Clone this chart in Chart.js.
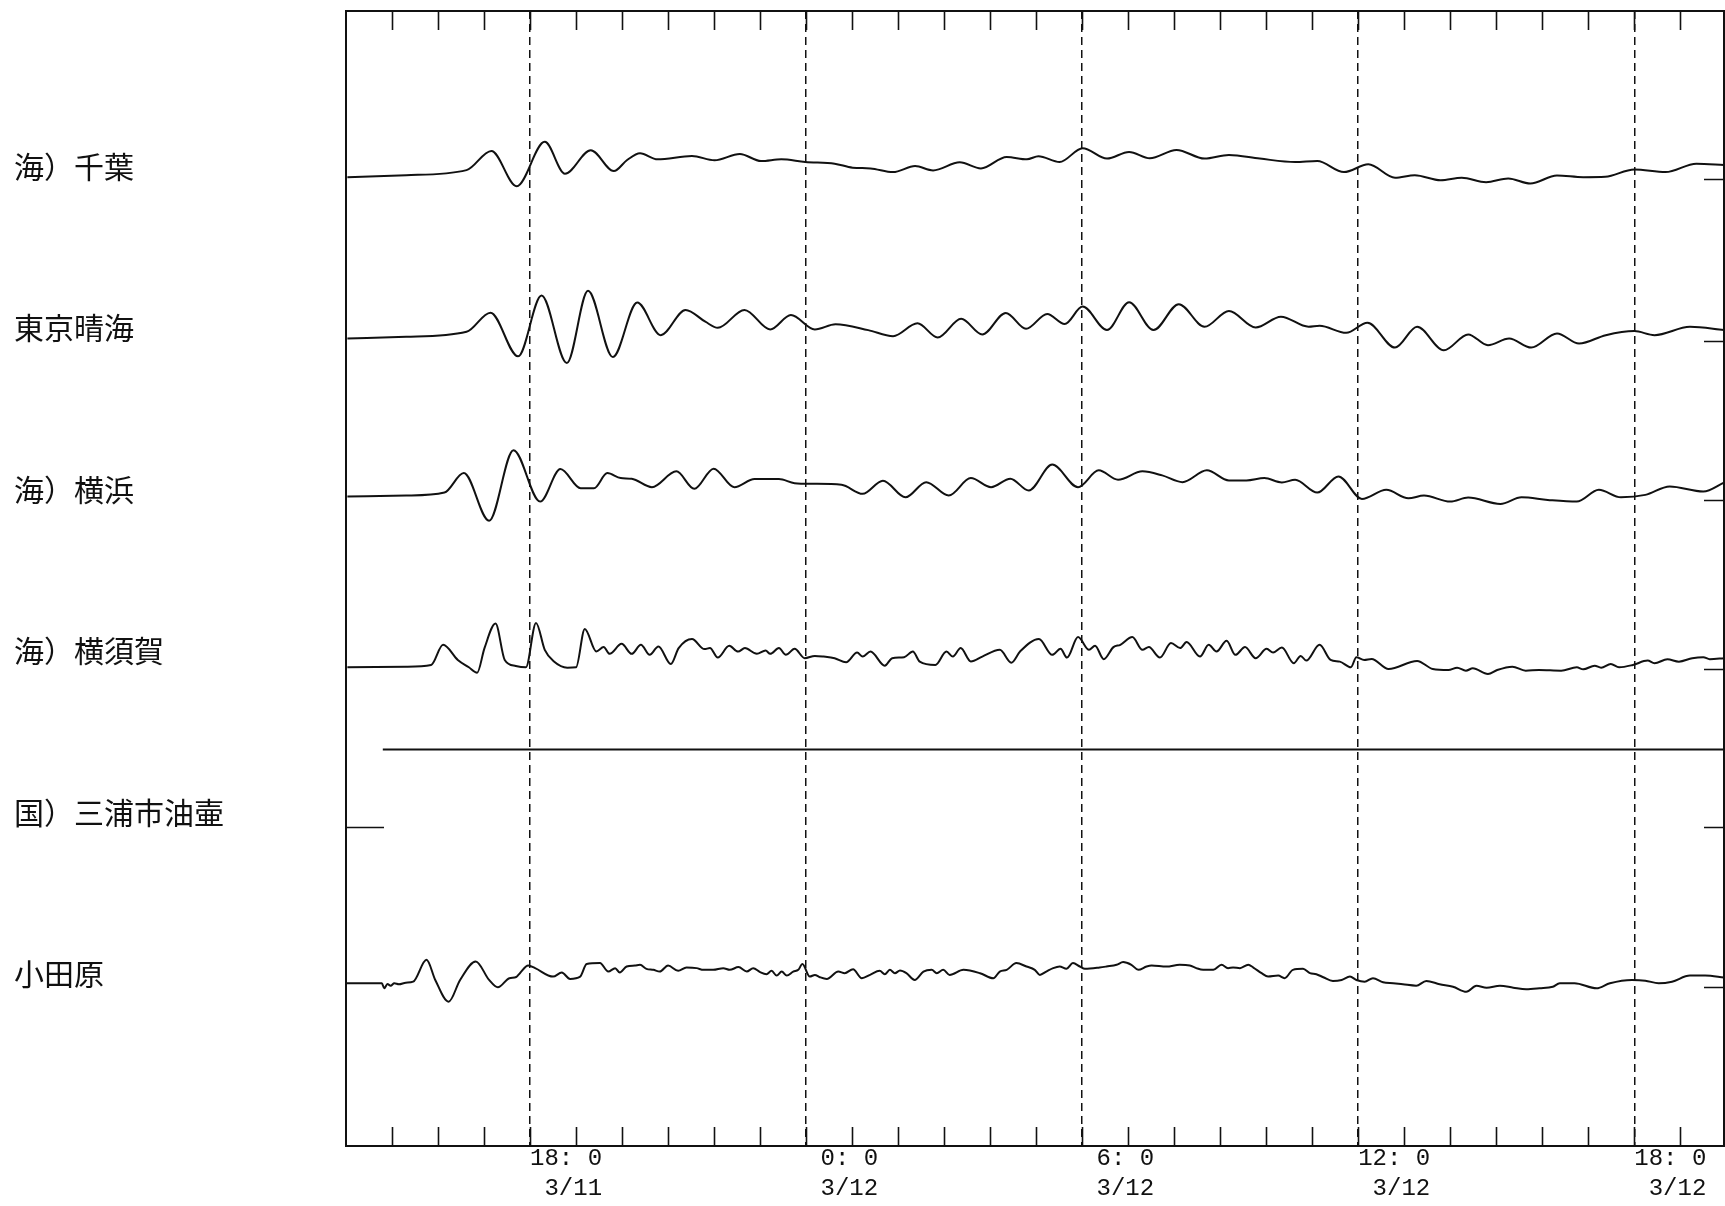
<!DOCTYPE html>
<html>
<head>
<meta charset="utf-8">
<title>潮位記録</title>
<script src="https://cdn.jsdelivr.net/npm/chart.js@4.4.1/dist/chart.umd.min.js"></script>
<style>
  html, body { margin: 0; padding: 0; background: #fff; }
  canvas { display: block; }
</style>
</head>
<body>
<canvas id="tideChart" width="1725" height="1206"></canvas>
<script>
// stations, top to bottom
const stationNames = ["海）千葉", "東京晴海", "海）横浜", "海）横須賀", "国）三浦市油壷", "小田原"];
const stationRows = [960, 800, 640, 480, 320, 160];
const refLevels = [0, 0, 2, -5, -2, 0];
const leftRefMark = [false, false, false, false, true, false];

// time axis, hours from 3/11 0:00
const majorHours = [18, 24, 30, 36, 42];
const timeLabels = ["18: 0", " 0: 0", " 6: 0", "12: 0", "18: 0"];
const dateLabels = [" 3/11", " 3/12", " 3/12", " 3/12", " 3/12"];
const hourTicks = [15, 16, 17, 18, 19, 20, 21, 22, 23, 24, 25, 26, 27, 28, 29,
  30, 31, 32, 33, 34, 35, 36, 37, 38, 39, 40, 41, 42, 43];

// 海）千葉
const chibaT = [14.03, 15.31, 16.62, 17.16, 17.71, 18.32, 18.76, 19.32, 19.82, 20.11, 20.39, 20.77,
  21.52, 22.01, 22.56, 23.02, 23.46, 23.98, 24.62, 25.01, 25.4, 25.89, 26.37, 26.76, 27.34, 27.8,
  28.36, 28.8, 29.05, 29.51, 30.01, 30.54, 31.02, 31.47, 32.05, 32.66, 33.19, 33.86, 34.63, 35.11,
  35.69, 36.22, 36.8, 37.23, 37.79, 38.25, 38.78, 39.26, 39.74, 40.32, 40.89, 41.37, 42.0, 42.68,
  43.35, 43.96];
const chibaV = [2.3, 4.3, 9.3, 28.3, -6.7, 37.3, 5.7, 29, 8.3, 19.3, 26, 20,
  23.3, 19, 25.3, 18.3, 20, 17.3, 15.7, 11.7, 11, 7.3, 13.3, 9, 17, 11,
  22.3, 20, 23, 17.3, 31, 20.7, 27.3, 21, 29.3, 20.7, 24.3, 20.7, 17.3, 18.3,
  7.3, 15, 1.7, 4.3, -0.7, 1.7, -2.7, 1, -4, 4, 2.3, 2.7, 10, 7.3,
  15.7, 14.3];

// 東京晴海
const tokyoT = [14.03, 15.31, 16.62, 17.14, 17.74, 18.25, 18.8, 19.26, 19.8, 20.33, 20.84, 21.38,
  21.81, 22.08, 22.66, 23.22, 23.67, 24.19, 24.64, 25.35, 25.89, 26.42, 26.86, 27.37, 27.83, 28.34,
  28.78, 29.24, 29.62, 30.01, 30.54, 31.02, 31.55, 32.1, 32.66, 33.19, 33.77, 34.32, 34.92, 35.16,
  35.74, 36.2, 36.8, 37.28, 37.86, 38.39, 38.82, 39.28, 39.76, 40.32, 40.8, 41.38, 42.0, 42.44,
  43.21, 43.96];
const tokyoV = [2.4, 4, 9, 28, -15.3, 45, -22, 49.7, -16, 38, 5.7, 30.7,
  19, 13, 30.7, 11.4, 25.7, 11.4, 16.4, 10.7, 4.7, 17.4, 3.4, 22, 6.4, 27.7,
  12, 26.7, 16.7, 34, 10.7, 38.4, 10.7, 36.4, 14, 29.7, 13.4, 24, 14, 15,
  8, 18, -6.6, 14, -9.3, 6.4, -4.3, 2.4, -6.6, 7.4, -2.6, 5.7, 9.7, 5.7,
  14, 10.7];

// 海）横浜
const yokohamaT = [14.03, 15.31, 16.14, 16.56, 17.11, 17.64, 18.22, 18.66, 19.1, 19.39, 19.68, 19.97,
  20.21, 20.65, 21.18, 21.57, 21.99, 22.44, 22.88, 23.41, 23.75, 24.14, 24.77, 25.23, 25.67, 26.16,
  26.61, 27.1, 27.58, 28.02, 28.44, 28.84, 29.35, 29.91, 30.36, 30.78, 31.31, 31.74, 32.18, 32.71,
  33.19, 33.57, 33.96, 34.34, 34.63, 35.11, 35.57, 36.08, 36.61, 37.09, 37.43, 38.0, 38.39, 39.09,
  39.55, 40.12, 40.75, 41.23, 41.71, 42.24, 42.77, 43.5, 43.96];
const yokohamaV = [5.7, 6.7, 9.7, 29, -18.3, 51.7, 0.7, 33, 14, 14, 29, 24,
  23.4, 15, 30.7, 13.4, 33.4, 15, 23, 23, 19, 18.4, 17.4, 8.4, 21.4, 5,
  20, 6.7, 24, 15, 23.4, 11.7, 37.4, 15, 31.7, 22.4, 30.7, 26.7, 20, 31.7,
  21.7, 21.7, 24, 19.7, 22.4, 9.7, 25.7, 3.4, 12.4, 4, 6.7, 0.7, 4.7, -1.6,
  5, 2.4, 0.7, 12.4, 5, 7.4, 15.7, 10.7, 19.7];

// 海）横須賀
const yokosukaT = [14.03, 15.31, 15.85, 16.11, 16.43, 16.67, 16.85, 17.01, 17.25, 17.45, 17.69, 17.91,
  18.13, 18.32, 18.52, 18.81, 19.0, 19.19, 19.44, 19.6, 19.73, 19.99, 20.21, 20.41, 20.6, 20.79,
  21.06, 21.23, 21.52, 21.79, 21.91, 22.08, 22.33, 22.52, 22.67, 22.93, 23.12, 23.22, 23.41, 23.56,
  23.75, 23.97, 24.19, 24.38, 24.62, 24.87, 25.11, 25.23, 25.4, 25.71, 25.87, 26.13, 26.32, 26.47,
  26.81, 27.05, 27.19, 27.36, 27.58, 27.83, 28.21, 28.46, 28.65, 29.06, 29.35, 29.53, 29.67, 29.91,
  30.15, 30.28, 30.47, 30.68, 30.83, 31.09, 31.31, 31.45, 31.69, 31.93, 32.13, 32.27, 32.56, 32.75,
  32.92, 33.14, 33.33, 33.54, 33.77, 34.01, 34.15, 34.34, 34.6, 34.75, 34.87, 35.16, 35.4, 35.6,
  35.84, 35.96, 36.13, 36.29, 36.66, 37.28, 37.62, 37.96, 38.15, 38.34, 38.49, 38.82, 39.02, 39.35,
  39.64, 39.93, 40.41, 40.75, 40.89, 41.14, 41.28, 41.49, 41.67, 41.97, 42.29, 42.44, 42.72, 42.97,
  43.26, 43.5, 43.64, 43.96];
const yokosukaV = [-3.5, -2.9, -1.2, 18.8, 3.8, -3.5, -8.9, 15.5, 39.8, 3.8, -2.2, -3.5,
  40.5, 13.8, 2.2, -3.9, -3.5, 34.5, 12.2, 16.5, 9.8, 19.8, 9.8, 18.8, 8.8, 17.1,
  -0.2, 15.5, 24.5, 14.5, 15.5, 6.1, 17.8, 12.1, 15.5, 9.8, 13.1, 9.8, 15.5, 8.8,
  14.8, 5.5, 7.8, 7.1, 5.5, 1.5, 11.1, 7.1, 12.1, -1.9, 5.5, 6.5, 12.1, 2.1,
  -1.2, 12.1, 7.1, 15.5, 2.2, 7.1, 13.8, 1.1, 12.1, 24.5, 8.8, 14.8, 6.1, 26.5,
  13.8, 17.8, 4.5, 16.5, 18.8, 26.5, 13.8, 16.5, 6.1, 20.5, 15.5, 21.5, 7.1, 18.8,
  12.1, 22.8, 8.8, 16.5, 5.5, 14.8, 11.1, 16.1, 0.5, 7.8, 3.1, 18.8, 3.8, 2.1,
  -3.5, 6.5, 3.8, 4.8, -5.2, 2.8, -5.2, -6.2, -3.9, -6.9, -4.5, -10.2, -6.2, -2.9,
  -6.9, -6.2, -6.9, -3.5, -5.5, -1.9, -3.9, -0.2, -3.5, -1.2, 3.1, 0.5, 4.5, 2.1,
  5.5, 6.5, 4.5, 5.5];

// 国）三浦市油壷 (flat record)
const miuraT = [14.8, 43.95];
const miuraV = [75, 75];

// 小田原
const odawaraT = [14.0, 14.78, 14.83, 14.9, 14.97, 15.05, 15.15, 15.3, 15.46, 15.75, 15.94, 16.23,
  16.48, 16.82, 17.11, 17.3, 17.55, 17.7, 17.78, 17.96, 18.11, 18.5, 18.69, 18.87,
  19.09, 19.23, 19.52, 19.7, 19.85, 19.95, 20.1, 20.28, 20.39, 20.53, 20.68, 20.82,
  21.0, 21.22, 21.4, 21.62, 21.77, 21.98, 22.2, 22.34, 22.53, 22.71, 22.85, 23.0,
  23.14, 23.25, 23.36, 23.47, 23.58, 23.72, 23.83, 23.92, 24.08, 24.19, 24.3, 24.45,
  24.7, 24.84, 25.02, 25.21, 25.39, 25.6, 25.71, 25.82, 25.93, 26.04, 26.18, 26.36,
  26.55, 26.73, 26.84, 26.98, 27.12, 27.42, 27.78, 28.07, 28.21, 28.36, 28.57, 28.79,
  28.97, 29.08, 29.22, 29.37, 29.51, 29.66, 29.8, 29.95, 30.06, 30.38, 30.53, 30.75,
  30.89, 31.07, 31.22, 31.4, 31.51, 31.83, 32.12, 32.34, 32.48, 32.63, 32.85, 33.03,
  33.17, 33.28, 33.43, 33.61, 33.72, 33.9, 34.04, 34.26, 34.4, 34.58, 34.8, 34.95,
  35.09, 35.24, 35.45, 35.64, 35.82, 35.96, 36.14, 36.32, 36.54, 36.76, 36.97, 37.26,
  37.48, 37.77, 38.06, 38.35, 38.57, 38.79, 39.08, 39.37, 39.65, 39.94, 40.23, 40.38,
  40.7, 41.18, 41.47, 41.95, 42.24, 42.53, 42.82, 43.21, 43.54, 43.96];
const odawaraV = [3.3, 3.3, -1.7, 2.5, 0.9, 3.3, 2.3, 3.9, 4.9, 26.6, 6.6, -15,
  6.6, 24.9, 6.6, -0.7, 8.3, 9.5, 13.3, 20.9, 18.3, 9.9, 13.9, 7.6,
  9.9, 22.3, 23.3, 14.9, 18.3, 13.9, 19.9, 20.9, 21.6, 17.6, 16.6, 14.9,
  20.9, 15.6, 18.9, 18.3, 16.6, 16.6, 18.3, 16.6, 19.3, 14.9, 18.3, 14.3,
  12.3, 15.6, 10.9, 14.9, 10.9, 14.9, 16.6, 22.3, 9.9, 11.6, 9.3, 7.6,
  14.9, 13.3, 17.3, 8.3, 11.6, 15.6, 12.3, 16.6, 13.3, 15.9, 13.3, 6.6,
  14.9, 16.6, 13.3, 16.6, 11.6, 16.6, 13.3, 8.3, 14.9, 16.6, 23.3, 19.9,
  16.6, 11.6, 14.9, 18.3, 19.9, 17.6, 23.3, 19.9, 17.6, 18.9, 19.9, 21.6,
  24.3, 21.6, 16.6, 19.9, 20.9, 19.9, 21.6, 20.9, 18.3, 16.6, 16.6, 21.6,
  18.3, 18.9, 18.3, 21.6, 18.9, 13.3, 9.9, 10.9, 8.3, 16.6, 17.6, 13.3,
  12.3, 9.3, 5.6, 6.6, 9.9, 6.6, 4.9, 8.3, 4.3, 3.3, 2.3, 0.9,
  5.6, 2.3, -0.1, -5.1, 0.9, -1.1, 0.9, -1.1, -2.7, -1.7, -0.1, 3.3,
  3.3, -1.7, 3.3, 6.6, 5.9, 3.3, 4.9, 10.9, 10.9, 8.9];

const series = [
  [chibaT, chibaV],
  [tokyoT, tokyoV],
  [yokohamaT, yokohamaV],
  [yokosukaT, yokosukaV],
  [miuraT, miuraV],
  [odawaraT, odawaraV]
];

const datasets = series.map(([t, v], i) => ({
  label: stationNames[i],
  data: t.map((x, k) => ({ x: x, y: stationRows[i] + v[k] })),
  borderColor: "#111",
  borderWidth: 2,
  pointRadius: 0,
  fill: false,
  cubicInterpolationMode: "monotone"
}));

// frame, inner hour ticks and reference marks
const framePlugin = {
  id: "frame",
  afterDatasetsDraw(chart) {
    const { ctx, chartArea: a, scales } = chart;
    const x = scales.x, y = scales.y;
    ctx.save();
    ctx.strokeStyle = "#111";
    ctx.lineWidth = 2;
    ctx.strokeRect(a.left, a.top, a.right - a.left, a.bottom - a.top);
    ctx.lineWidth = 1.6;
    ctx.beginPath();
    hourTicks.forEach(h => {
      const px = Math.round(x.getPixelForValue(h)) + 0.5;
      ctx.moveTo(px, a.top);
      ctx.lineTo(px, a.top + 19);
      ctx.moveTo(px, a.bottom);
      ctx.lineTo(px, a.bottom - 19);
    });
    stationRows.forEach((r, i) => {
      const py = Math.round(y.getPixelForValue(r + refLevels[i])) + 0.5;
      ctx.moveTo(a.right - 20, py);
      ctx.lineTo(a.right, py);
      if (leftRefMark[i]) {
        ctx.moveTo(a.left, py);
        ctx.lineTo(a.left + 38, py);
      }
    });
    ctx.stroke();
    ctx.restore();
  }
};

new Chart(document.getElementById("tideChart"), {
  type: "line",
  data: { datasets },
  options: {
    responsive: false,
    animation: false,
    layout: { padding: { left: 14, right: 1, top: 11, bottom: 0 } },
    plugins: { legend: { display: false }, tooltip: { enabled: false } },
    scales: {
      x: {
        type: "linear",
        min: 14,
        max: 43.95,
        afterBuildTicks: s => { s.ticks = majorHours.map(v => ({ value: v })); },
        afterFit: s => { s.height = 60; s.paddingLeft = 0; s.paddingRight = 0; },
        grid: { color: "#111", lineWidth: 1.5, drawTicks: false },
        border: { display: false, dash: [8, 5] },
        ticks: {
          autoSkip: false,
          maxRotation: 0,
          align: "start",
          padding: -2,
          color: "#111",
          font: { family: "'Liberation Mono', 'DejaVu Sans Mono', monospace", size: 24, lineHeight: 1.25 },
          callback: v => {
            const i = majorHours.indexOf(v);
            return i < 0 ? "" : [timeLabels[i], dateLabels[i]];
          }
        }
      },
      y: {
        type: "linear",
        min: 2,
        max: 1127,
        afterBuildTicks: s => { s.ticks = stationRows.map(v => ({ value: v })); },
        afterFit: s => { s.width = 332; s.paddingTop = 0; s.paddingBottom = 0; },
        grid: { display: false },
        border: { display: false },
        ticks: {
          crossAlign: "far",
          labelOffset: -13,
          color: "#111",
          font: { family: "'Noto Sans CJK JP', 'Noto Sans CJK SC', sans-serif", size: 30 },
          callback: v => {
            const i = stationRows.indexOf(v);
            return i < 0 ? "" : stationNames[i];
          }
        }
      }
    }
  },
  plugins: [framePlugin]
});
</script>
</body>
</html>
